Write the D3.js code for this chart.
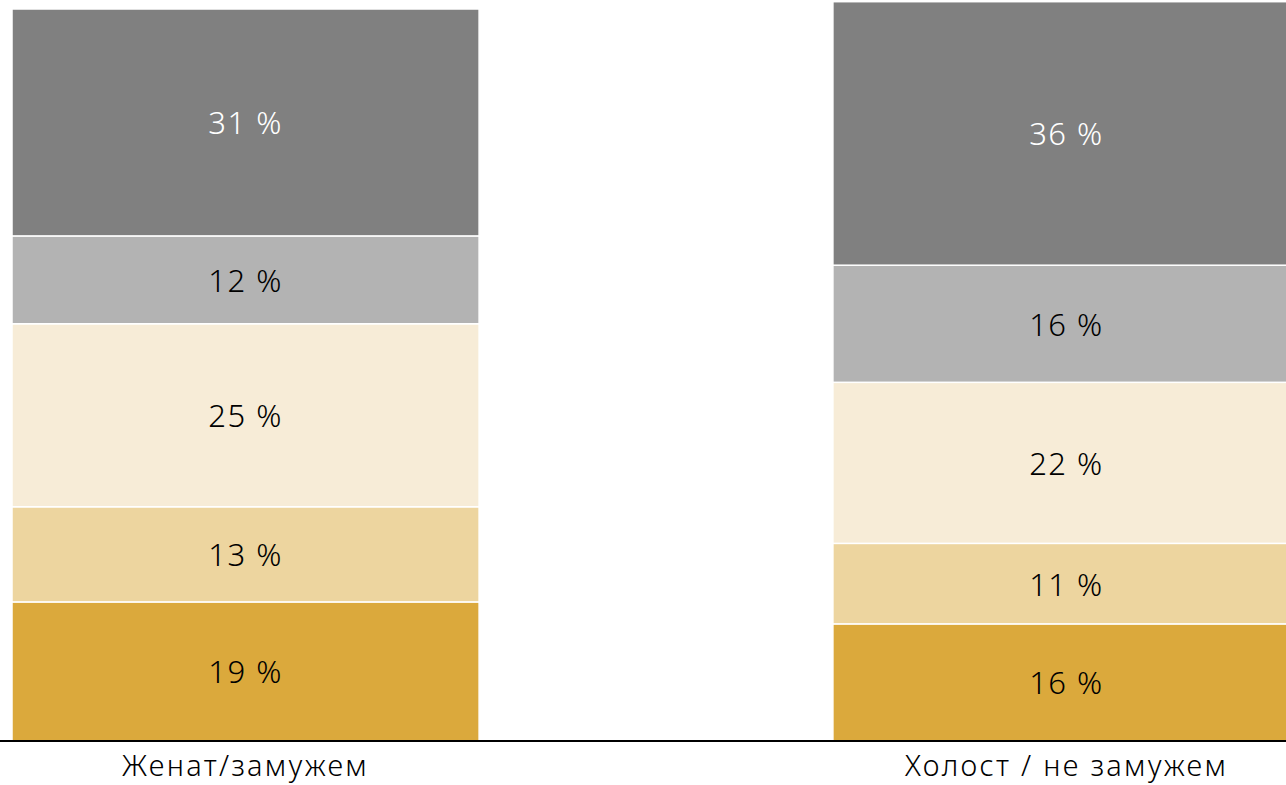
<!DOCTYPE html>
<html>
<head>
<meta charset="utf-8">
<script src="https://cdn.jsdelivr.net/npm/d3@7"></script>
<style>
  html, body { margin: 0; padding: 0; background: #fff; }
  svg { display: block; }
  text { font-family: "Noto Sans", "Open Sans", sans-serif; font-weight: 300; }
</style>
</head>
<body>
<svg id="chart" width="1286" height="785"></svg>
<script>
// Marital status groups
const categories = ["Женат/замужем", "Холост / не замужем"];

// Answer shares (%) per group, bottom segment first
const seriesKeys = ["s1", "s2", "s3", "s4", "s5"];
const married = [19, 13, 25, 12, 31];
const single  = [16, 11, 22, 16, 36];

const colors = ["#dba93c", "#edd59f", "#f7ecd7", "#b3b3b3", "#808080"];
const labelColors = ["#000", "#000", "#000", "#000", "#fff"];

const rows = [married, single].map((vals, i) => {
  const r = { category: categories[i] };
  seriesKeys.forEach((k, j) => r[k] = vals[j]);
  return r;
});

const width = 1286, height = 785;
const baseY = 741;

const svg = d3.select("#chart");

const x = d3.scaleBand()
  .domain(categories)
  .range([12, 1300])
  .paddingInner(0.431)
  .paddingOuter(0);

const y = d3.scaleLinear()
  .domain([0, 100])
  .range([baseY, 9]);

const stack = d3.stack().keys(seriesKeys);
const layers = stack(rows);

const g = svg.append("g");

const layerG = g.selectAll("g.layer")
  .data(layers)
  .join("g")
  .attr("class", "layer")
  .attr("fill", (d, i) => colors[i]);

layerG.selectAll("rect")
  .data(d => d)
  .join("rect")
  .attr("x", d => x(d.data.category))
  .attr("width", x.bandwidth())
  .attr("y", d => y(d[1]))
  .attr("height", d => y(d[0]) - y(d[1]))
  .attr("stroke", "#fff")
  .attr("stroke-width", 1.5);

layerG.each(function (layer, i) {
  d3.select(this).selectAll("text")
    .data(layer)
    .join("text")
    .attr("x", d => x(d.data.category) + x.bandwidth() / 2)
    .attr("y", d => (y(d[0]) + y(d[1])) / 2)
    .attr("text-anchor", "middle")
    .attr("dominant-baseline", "central")
    .attr("font-size", 31)
    .attr("letter-spacing", 1.5)
    .attr("fill", labelColors[i])
    .text(d => (d[1] - d[0]) + " %");
});

// Baseline
svg.append("line")
  .attr("x1", 0).attr("x2", width)
  .attr("y1", baseY).attr("y2", baseY)
  .attr("stroke", "#000")
  .attr("stroke-width", 2);

// Category labels
svg.selectAll("text.cat")
  .data(categories)
  .join("text")
  .attr("class", "cat")
  .attr("x", d => x(d) + x.bandwidth() / 2)
  .attr("y", 776)
  .attr("text-anchor", "middle")
  .attr("font-size", 29)
  .attr("letter-spacing", 2.3)
  .attr("fill", "#000")
  .text(d => d);
</script>
</body>
</html>
